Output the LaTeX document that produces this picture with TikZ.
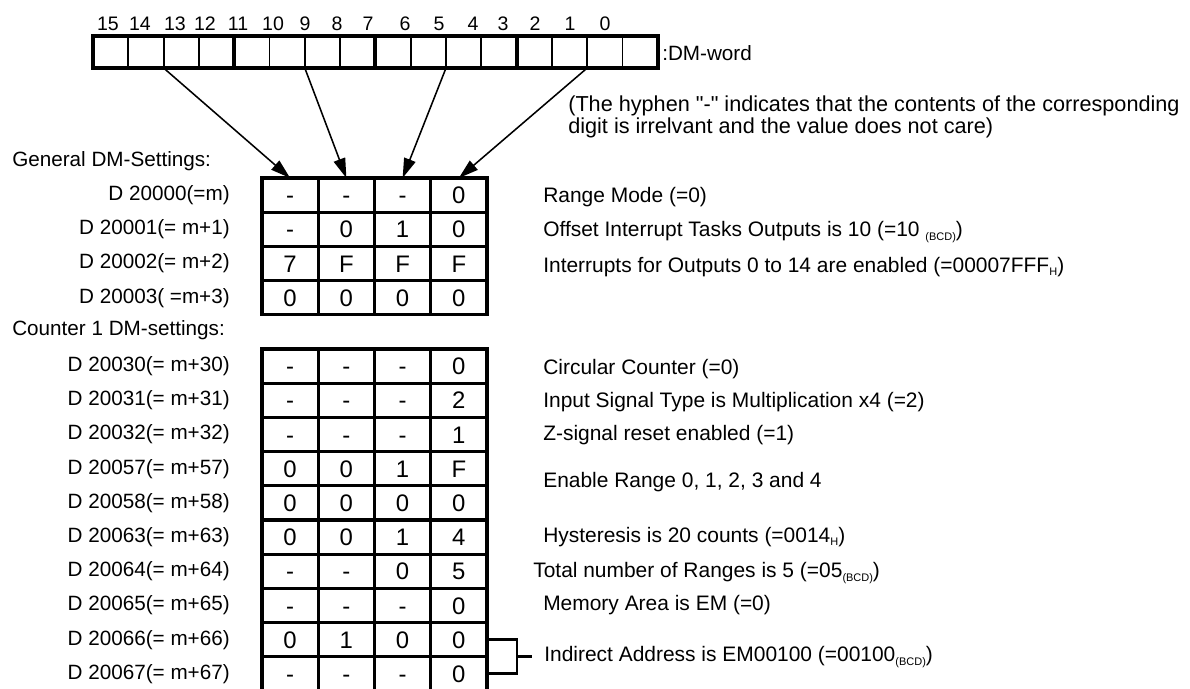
\documentclass[tikz,border=0pt]{standalone}
\usepackage{fontspec}
\setmainfont{Liberation Sans}
\usetikzlibrary{positioning, arrows.meta, calc}

\newcommand{\lowtag}[1]{\raisebox{-0.3ex}{\fontsize{7.8}{8}\selectfont #1}}
\newcommand{\plainquote}{\XeTeXglyph\XeTeXcharglyph"22\relax}

\begin{document}
\begin{tikzpicture}[x=0.025cm, y=-0.025cm,
    every node/.style={inner sep=0pt, font=\fontsize{14.7}{17}\selectfont},
    bitcell/.style={draw, line width=1.4pt, outer sep=0pt, minimum width=0.8825cm, minimum height=0.8cm},
    heavy/.style={line width=2.8pt},
    cell/.style={draw, line width=2.4pt, outer sep=0pt, minimum width=1.406cm, minimum height=0.855cm,
        text height=12.2pt, text depth=0pt, font=\fontsize{17}{19}\selectfont},
    dmlabel/.style={anchor=east},
    desc/.style={anchor=west, font=\fontsize{14.9}{17}\selectfont},
    pointer/.style={line width=1.1pt, -{Triangle[length=14pt, width=8.5pt]}},
    bracket/.style={line width=2.1pt}]
    \useasboundingbox (0,0) rectangle (1190,689);

    % DM word, bit 15 on the left
    \foreach \b [count=\i from 0] in {15,14,...,0}
        \node[bitcell] (bit\b) at ({110.65+35.3*\i},52) {};
    \draw[heavy] (bit15.north west) rectangle (bit0.south east);
    \foreach \b in {12,8,4}
        \draw[heavy] (bit\b.north east) -- (bit\b.south east);
    \foreach \b/\x in {15/108,14/140,13/175,12/205,11/238,10/273,9/305,8/337,
                       7/368,6/405,5/439,4/473,3/503,2/535,1/570,0/605}
        \node[font=\fontsize{13.9}{15}\selectfont] (num\b) at (\x,24) {\b};
    \node[anchor=west] (dmword) at (662,53) {:DM-word};

    \node[anchor=west, align=left, font=\fontsize{15.4}{15.6}\selectfont] (note) at (568,117)
        {(The hyphen \plainquote-\plainquote{} indicates that the contents of the corresponding\\
         digit is irrelvant and the value does not care)};

    % general settings
    \node[anchor=west] (gentitle) at (12,161) {General DM-Settings:};
    \foreach \row [count=\r] in {{-,-,-,0},{-,0,1,0},{7,F,F,F},{0,0,0,0}}
        \foreach \val [count=\c] in \row
            \node[cell] (gen-\r-\c) at ({233.875+56.25*\c},{160.9+34.2*\r}) {\val};
    \foreach \lbl [count=\r] in {D 20000(=m), D 20001(= m+1), D 20002(= m+2), D 20003( =m+3)}
        \node[dmlabel, left=0.8cm of gen-\r-1] (genlab-\r) {\lbl};

    % one arrow per digit (4 bits)
    \foreach \b/\c in {14/1,10/2,6/3,2/4}
        \draw[pointer] (bit\b.south east) -- (gen-1-\c.north);

    % counter 1 settings
    \node[anchor=west] (cnttitle) at (12,330) {Counter 1 DM-settings:};
    \foreach \row [count=\r] in {{-,-,-,0},{-,-,-,2},{-,-,-,1},{0,0,1,F},{0,0,0,0},
                                 {0,0,1,4},{-,-,0,5},{-,-,-,0},{0,1,0,0},{-,-,-,0}}
        \foreach \val [count=\c] in \row
            \node[cell] (cnt-\r-\c) at ({233.875+56.25*\c},{331.9+34.2*\r}) {\val};
    \foreach \lbl [count=\r] in {D 20030(= m+30), D 20031(= m+31), D 20032(= m+32),
                                 D 20057(= m+57), D 20058(= m+58), D 20063(= m+63),
                                 D 20064(= m+64), D 20065(= m+65), D 20066(= m+66),
                                 D 20067(= m+67)}
        \node[dmlabel, left=0.8cm of cnt-\r-1] (cntlab-\r) {\lbl};

    \node[desc] (d-range) at (543,197) {Range Mode (=0)};
    \node[desc] (d-offset) at (543,232) {Offset Interrupt Tasks Outputs is 10 (=10 \lowtag{(BCD)})};
    \node[desc] (d-intr) at (543,267) {Interrupts for Outputs 0 to 14 are enabled (=00007FFF\lowtag{H})};
    \node[desc] (d-circ) at (543,369) {Circular Counter (=0)};
    \node[desc] (d-input) at (543,402) {Input Signal Type is Multiplication x4 (=2)};
    \node[desc] (d-zsig) at (543,435) {Z-signal reset enabled (=1)};
    \node[desc] (d-enable) at (543,482) {Enable Range 0, 1, 2, 3 and 4};
    \node[desc] (d-hyst) at (543,537) {Hysteresis is 20 counts (=0014\lowtag{H})};
    \node[desc] (d-total) at (533,573) {Total number of Ranges is 5 (=05\lowtag{(BCD)})};
    \node[desc] (d-mem) at (543,605) {Memory Area is EM (=0)};
    \node[desc] (d-ind) at (544,657) {Indirect Address is EM00100 (=00100\lowtag{(BCD)})};

    % bracket for the two address words
    \coordinate (brk) at ([xshift=0.75cm]cnt-9-4.east);
    \draw[bracket] (cnt-9-4.east) -- (brk) -- (brk |- cnt-10-4.east) -- (cnt-10-4.east);
    \coordinate (brkmid) at ($(brk)!0.5!(brk |- cnt-10-4.east)$);
    \draw[bracket, shorten >=0.3cm] (brkmid) -- (brkmid -| d-ind.west);
\end{tikzpicture}
\end{document}
